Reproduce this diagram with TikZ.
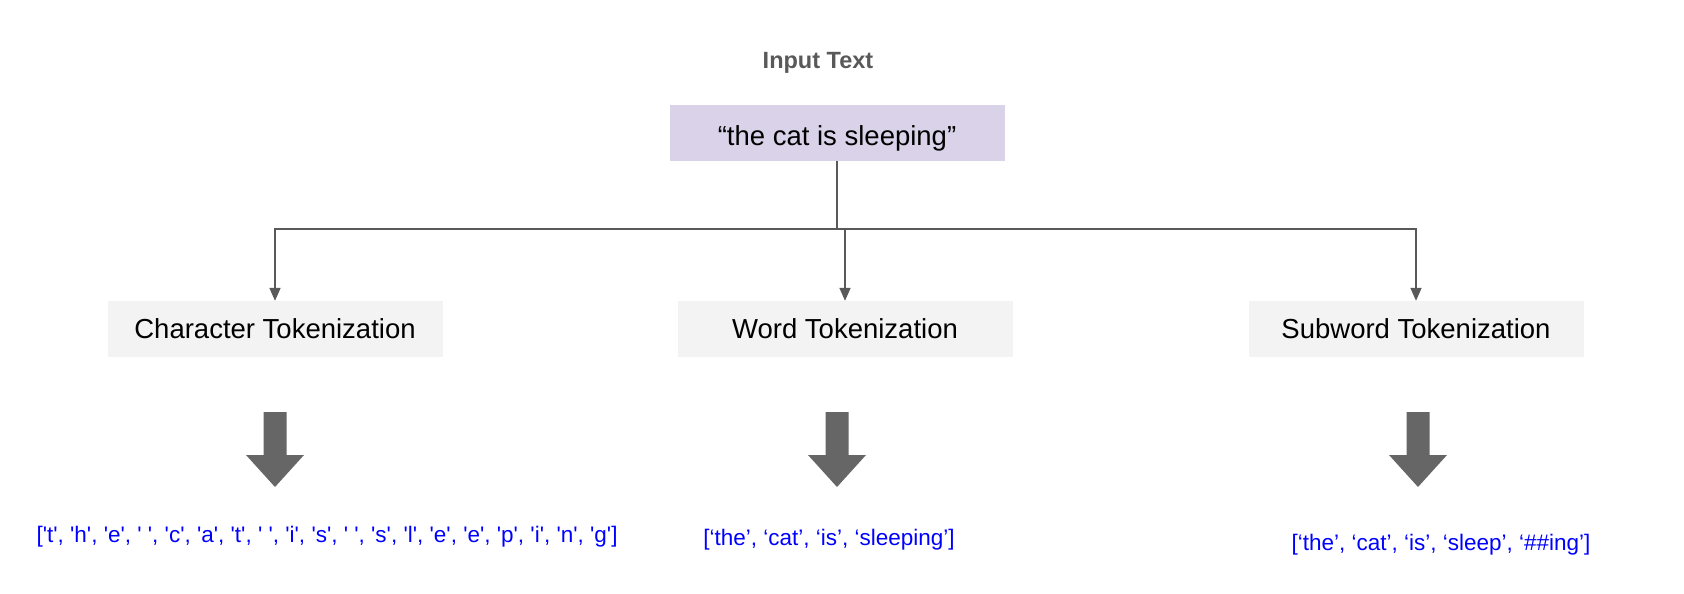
\documentclass[tikz,border=0pt]{standalone}
\usepackage{fontspec}
\setmainfont{Liberation Sans}
\newfontfamily\plainf[Ligatures=TeXOff]{Liberation Sans}
\usetikzlibrary{arrows.meta}
\definecolor{purp}{HTML}{D9D2E9}
\definecolor{boxg}{HTML}{F3F3F3}
\definecolor{lineg}{HTML}{595959}
\definecolor{arrg}{HTML}{666666}
\definecolor{tokblue}{HTML}{0000FF}
\tikzset{
  tokbox/.style={fill=boxg,minimum width=335pt,minimum height=56pt,inner sep=0pt,font=\fontsize{27.5}{32}\selectfont},
  conn/.style={draw=lineg,line width=1.6pt,-{Triangle[length=13pt,width=11pt]}},
  toklist/.style={text=tokblue,font=\fontsize{22.5}{26}\selectfont,inner sep=0pt},
  bigarrow/.style={fill=arrg,draw=none}
}
\begin{document}
\begin{tikzpicture}[x=1pt,y=-1pt]
\useasboundingbox (0,0) rectangle (1684,594);
\node[font=\bfseries\fontsize{23.5}{28}\selectfont,text=lineg] (title) at (818,63) {Input Text};
\node[fill=purp,minimum width=335pt,minimum height=56pt,inner sep=0pt,text height=26pt,text depth=2pt,font=\fontsize{27.5}{32}\selectfont] (inp) at (837,133) {“the cat is sleeping”};
\node[tokbox] (ch) at (275,329) {Character Tokenization};
\node[tokbox] (wd) at (845,329) {Word Tokenization};
\node[tokbox] (sw) at (1416,329) {Subword Tokenization};
\coordinate (j) at (837,229);
\draw[draw=lineg,line width=1.6pt] (inp.south) -- (j);
\draw[conn] (j) -| (ch.north);
\draw[conn] (j) -| (sw.north);
\draw[conn] (j) -| (wd.north);
\foreach \cx in {275,837,1418}{
  \fill[bigarrow] (\cx-11.5,412) -- (\cx+11.5,412) -- (\cx+11.5,455) -- (\cx+29,455) -- (\cx,487) -- (\cx-29,455) -- (\cx-11.5,455) -- cycle;
}
\node[toklist,font=\plainf\fontsize{22.5}{26}\selectfont] (l1) at (327,537) {['t', 'h', 'e', ' ', 'c', 'a', 't', ' ', 'i', 's', ' ', 's', 'l', 'e', 'e', 'p', 'i', 'n', 'g']};
\node[toklist] (l2) at (829,540) {[‘the’, ‘cat’, ‘is’, ‘sleeping’]};
\node[toklist] (l3) at (1441,545) {[‘the’, ‘cat’, ‘is’, ‘sleep’, ‘\#\#ing’]};
\end{tikzpicture}
\end{document}
